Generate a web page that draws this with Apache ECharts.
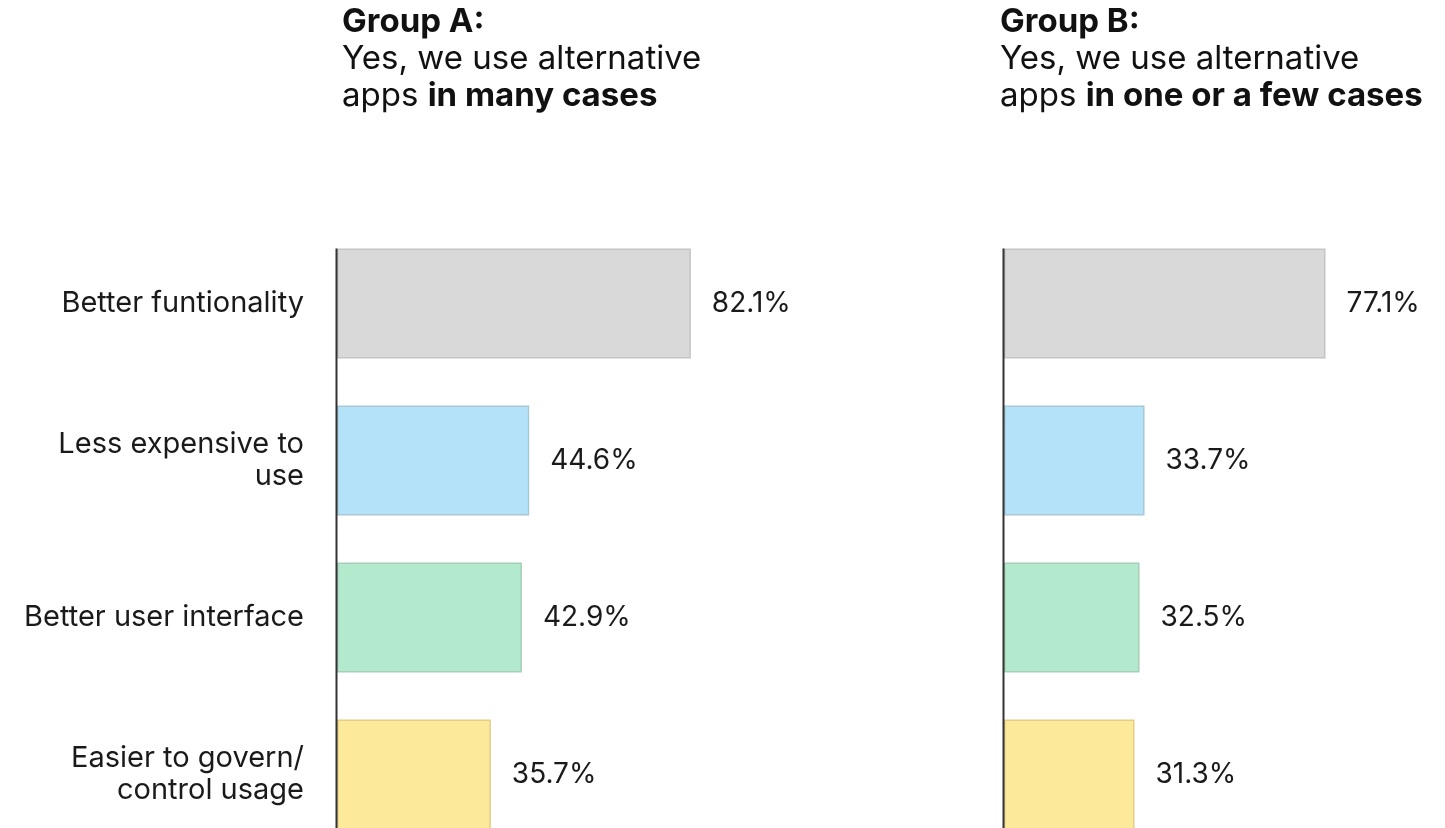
<!DOCTYPE html>
<html>
<head>
<meta charset="utf-8">
<script src="https://cdn.jsdelivr.net/npm/echarts@6/dist/echarts.min.js"></script>
<style>
html,body{margin:0;padding:0;background:#fff;}
#chart{width:1445px;height:828px;}
</style>
</head>
<body>
<div id="chart"></div>
<script>
const categories = ['Better funtionality', 'Less expensive to\nuse', 'Better user interface', 'Easier to govern/\ncontrol usage'];
const groupA = [82.1, 44.6, 42.9, 35.7];
const groupB = [77.1, 33.7, 32.5, 31.3];
const barColors = ['#d9d9d9', '#b4e3f9', '#b3eace', '#fde99a'];
const borderColors = ['#c4c4c4', '#a8c8d6', '#a6cfba', '#e2cf85'];

const FONT = 'Inter, "Noto Sans", sans-serif';
const BAR_W = 110;

function mkData(vals) {
  return vals.map((v, i) => ({
    value: v,
    itemStyle: { color: barColors[i], borderColor: borderColors[i], borderWidth: 1.5 }
  }));
}

const richStyles = {
  b: { fontFamily: FONT, fontSize: 33, fontWeight: 'bold', color: '#111', lineHeight: 37 },
  n: { fontFamily: FONT, fontSize: 33, fontWeight: 'normal', color: '#111', lineHeight: 37 }
};

const chart = echarts.init(document.getElementById('chart'), null, { renderer: 'canvas' });
const option = {
  backgroundColor: '#ffffff',
  animation: false,
  title: [
    { left: 337, top: -1, text: '{b|Group A:}\n{n|Yes, we use alternative}\n{n|apps }{b|in many cases}', textStyle: { rich: richStyles } },
    { left: 995, top: -1, text: '{b|Group B:}\n{n|Yes, we use alternative}\n{n|apps }{b|in one or a few cases}', textStyle: { rich: richStyles } }
  ],
  grid: [
    { left: 337, top: 225, width: 431, height: 628, outerBoundsMode: 'none', containLabel: false },
    { left: 1004, top: 225, width: 417, height: 628, outerBoundsMode: 'none', containLabel: false }
  ],
  xAxis: [
    { gridIndex: 0, type: 'value', min: 0, max: 100, show: false },
    { gridIndex: 1, type: 'value', min: 0, max: 100, show: false }
  ],
  yAxis: [
    { gridIndex: 0, type: 'category', data: categories, inverse: true,
      axisLine: { show: false }, axisTick: { show: false }, splitLine: { show: false },
      axisLabel: { margin: 33, fontFamily: FONT, fontSize: 29, color: '#1a1a1a', lineHeight: 32, align: 'right', padding: [5, 0, 0, 0] } },
    { gridIndex: 1, type: 'category', data: categories, inverse: true,
      axisLine: { show: false }, axisTick: { show: false }, splitLine: { show: false },
      axisLabel: { show: false } }
  ],
  series: [
    { type: 'bar', xAxisIndex: 0, yAxisIndex: 0, data: mkData(groupA), barWidth: BAR_W,
      label: { show: true, position: 'right', distance: 21, fontFamily: FONT, fontSize: 28, color: '#1a1a1a', padding: [5, 0, 0, 0], formatter: p => p.value.toFixed(1) + '%' } },
    { type: 'bar', xAxisIndex: 1, yAxisIndex: 1, data: mkData(groupB), barWidth: BAR_W,
      label: { show: true, position: 'right', distance: 21, fontFamily: FONT, fontSize: 28, color: '#1a1a1a', padding: [5, 0, 0, 0], formatter: p => p.value.toFixed(1) + '%' } }
  ]
};
chart.setOption(option);

// axis lines start at the top of the first bar, computed from the chart's scales
const lines = [0, 1].map(g => {
  const p = chart.convertToPixel({ gridIndex: g }, [0, 0]);
  const top = p[1] - BAR_W / 2;
  return { type: 'line', shape: { x1: p[0] - 0.5, y1: top, x2: p[0] - 0.5, y2: 828 },
           style: { stroke: '#333', lineWidth: 2 }, z: 100 };
});
chart.setOption({ graphic: lines });
</script>
</body>
</html>
